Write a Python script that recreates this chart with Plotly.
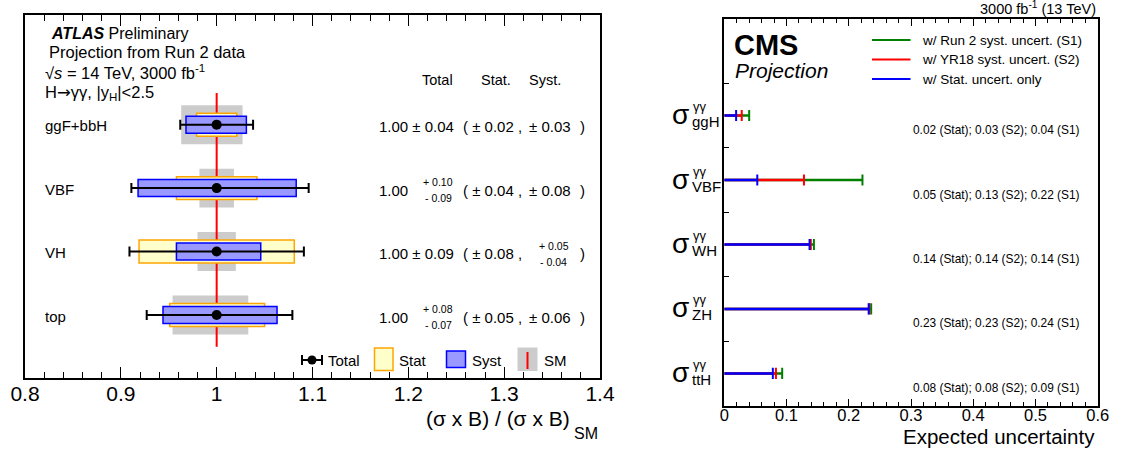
import plotly.graph_objects as go

W, H = 1121, 450
FONT = "Liberation Sans, Arial, Helvetica, sans-serif"

# ---------------- left panel: signal strengths per production mode ----------------
modes = ["ggF+bbH", "VBF", "VH", "top"]
mu = [1.00, 1.00, 1.00, 1.00]
tot_up = [0.038, 0.096, 0.091, 0.079]
tot_dn = [0.038, 0.089, 0.091, 0.073]
stat_up = [0.021, 0.042, 0.081, 0.050]
stat_dn = [0.021, 0.042, 0.081, 0.049]
syst_up = [0.031, 0.083, 0.046, 0.063]
syst_dn = [0.032, 0.082, 0.042, 0.056]
sm_up = [0.027, 0.018, 0.020, 0.033]
sm_dn = [0.037, 0.018, 0.020, 0.046]
ratio_ticks = [0.8, 0.9, 1.0, 1.1, 1.2, 1.3, 1.4]
ratio_ticktext = ["0.8", "0.9", "1", "1.1", "1.2", "1.3", "1.4"]

# ---------------- right panel: expected uncertainties ----------------
procs = ["ggH", "VBF", "WH", "ZH", "ttH"]
unc_stat = [0.019, 0.053, 0.137, 0.232, 0.078]
unc_s2 = [0.028, 0.128, 0.139, 0.233, 0.083]
unc_s1 = [0.040, 0.222, 0.144, 0.236, 0.093]
unc_ticks = [0.0, 0.1, 0.2, 0.3, 0.4, 0.5, 0.6]
unc_ticktext = ["0", "0.1", "0.2", "0.3", "0.4", "0.5", "0.6"]


def px(x):
    return x / W


def py(y):
    return 1 - y / H


def fmt(v):
    return f"{v:.2f}"


fig = go.Figure()
shapes = []
ann = []


def text(t, x, y, size, anchor="left", color="black", xref="paper", yref="paper", yshift=0):
    ann.append(dict(text=t, x=x, y=y, xref=xref, yref=yref, xanchor=anchor, yanchor="middle",
                    showarrow=False, yshift=yshift, font=dict(family=FONT, size=size, color=color)))


# ---------- left panel marks ----------
rows_l = list(range(len(modes) - 1, -1, -1))  # top row first

# SM theory bands and the SM reference line sit underneath the measured boxes
for r, m, u, d in zip(rows_l, mu, sm_up, sm_dn):
    shapes.append(dict(type="rect", xref="x", yref="y", layer="below",
                       x0=m - d, x1=m + u, y0=r - 0.307, y1=r + 0.307,
                       fillcolor="#cccccc", line=dict(width=0)))
shapes.append(dict(type="line", xref="x", yref="y", layer="below",
                   x0=1.0, x1=1.0, y0=-0.5, y1=len(modes) - 0.5,
                   line=dict(color="#ff0000", width=2)))

fig.add_trace(go.Bar(
    orientation="h", y=rows_l, base=[m - d for m, d in zip(mu, stat_dn)],
    x=[u + d for u, d in zip(stat_up, stat_dn)], width=0.362,
    marker=dict(color="#ffffcc", line=dict(color="#ffa500", width=1.5)),
    xaxis="x", yaxis="y", hoverinfo="skip", showlegend=False))
fig.add_trace(go.Bar(
    orientation="h", y=rows_l, base=[m - d for m, d in zip(mu, syst_dn)],
    x=[u + d for u, d in zip(syst_up, syst_dn)], width=0.268,
    marker=dict(color="#9999ff", line=dict(color="#0000ff", width=1.5)),
    xaxis="x", yaxis="y", hoverinfo="skip", showlegend=False))
fig.add_trace(go.Scatter(
    x=mu, y=rows_l, mode="markers",
    marker=dict(color="black", size=10),
    error_x=dict(type="data", symmetric=False, array=tot_up, arrayminus=tot_dn,
                 color="black", thickness=2, width=5),
    xaxis="x", yaxis="y", hoverinfo="skip", showlegend=False))

# row labels and numerical summary
for r, name, m, tu, td, su, sd, yu, yd in zip(rows_l, modes, mu, tot_up, tot_dn,
                                              stat_up, stat_dn, syst_up, syst_dn):
    text(name, px(43), r, 15, xref="paper", yref="y", yshift=-1)
    if fmt(tu) == fmt(td):
        text(f"{m:.2f} ± {fmt(tu)}", px(377), r, 15, yref="y", yshift=-2)
    else:
        text(f"{m:.2f}", px(377), r, 15, yref="y", yshift=-2)
        text(f"+ {fmt(tu)}", px(421), r, 10.5, yref="y", yshift=6)
        text(f"- {fmt(td)}", px(423), r, 10.5, yref="y", yshift=-10)
    if fmt(su) == fmt(sd):
        text(f"( ± {fmt(su)} ,", px(461), r, 15, yref="y", yshift=-2)
    else:
        text("(", px(461), r, 15, yref="y", yshift=-2)
        text(f"+ {fmt(su)}", px(470), r, 10.5, yref="y", yshift=6)
        text(f"- {fmt(sd)}", px(472), r, 10.5, yref="y", yshift=-10)
    if fmt(yu) == fmt(yd):
        text(f"± {fmt(yu)}", px(527), r, 15, yref="y", yshift=-2)
    else:
        text(f"+ {fmt(yu)}", px(537), r, 10.5, yref="y", yshift=6)
        text(f"- {fmt(yd)}", px(538), r, 10.5, yref="y", yshift=-10)
    text(")", px(578), r, 15, yref="y", yshift=-2)

text("Total", px(420), py(80), 14.5)
text("Stat.", px(479), py(80), 14.5)
text("Syst.", px(527), py(80), 14.5)

text("<b><i>ATLAS</i></b> Preliminary", px(49), py(33), 16)
text("Projection from Run 2 data", px(47), py(52), 16.5)
text("√<i>s</i> = 14 TeV, 3000 fb<sup>-1</sup>", px(43), py(72), 16.5)
text("H<span style='font-family:DejaVu Sans'>→</span>γγ, |y<sub>H</sub>|&lt;2.5",
     px(43), py(93), 16.5)

# left legend
ly = 360
shapes += [
    dict(type="line", xref="paper", yref="paper", x0=px(302), x1=px(322), y0=py(ly), y1=py(ly),
         line=dict(color="black", width=2)),
    dict(type="line", xref="paper", yref="paper", x0=px(302), x1=px(302), y0=py(ly - 5), y1=py(ly + 5),
         line=dict(color="black", width=2)),
    dict(type="line", xref="paper", yref="paper", x0=px(322), x1=px(322), y0=py(ly - 5), y1=py(ly + 5),
         line=dict(color="black", width=2)),
    dict(type="circle", xref="paper", yref="paper", x0=px(307.5), x1=px(316.5), y0=py(355.5), y1=py(364.5),
         fillcolor="black", line=dict(width=0)),
    dict(type="rect", xref="paper", yref="paper", x0=px(374.5), x1=px(393), y0=py(348), y1=py(370.5),
         fillcolor="#ffffcc", line=dict(color="#ffa500", width=1.5)),
    dict(type="rect", xref="paper", yref="paper", x0=px(446.5), x1=px(465.5), y0=py(351), y1=py(367.5),
         fillcolor="#9999ff", line=dict(color="#0000ff", width=1.5)),
    dict(type="rect", xref="paper", yref="paper", x0=px(517.5), x1=px(537.5), y0=py(347.5), y1=py(371),
         fillcolor="#cccccc", line=dict(width=0)),
    dict(type="line", xref="paper", yref="paper", x0=px(527.5), x1=px(527.5), y0=py(352), y1=py(369),
         line=dict(color="#ff0000", width=2)),
]
text("Total", px(326), py(ly), 15)
text("Stat", px(397), py(ly), 15)
text("Syst", px(470), py(ly), 15)
text("SM", px(541.5), py(ly), 15)

text("(σ x B) / (σ x B)", px(572), py(418), 21, anchor="right")
text("SM", px(572), py(433), 16, anchor="left")

# ---------- right panel marks ----------
rows_r = [len(procs) - 0.5 - i for i in range(len(procs))]
series = [(unc_s1, "#007f00"), (unc_s2, "#ff0000"), (unc_stat, "#0000ff")]
for vals, col in series:
    xs, ys = [], []
    for r, v in zip(rows_r, vals):
        xs += [0, v, None]
        ys += [r, r, None]
    fig.add_trace(go.Scatter(x=xs, y=ys, mode="lines", line=dict(color=col, width=2.5),
                             xaxis="x2", yaxis="y2", hoverinfo="skip", showlegend=False))
    fig.add_trace(go.Scatter(x=vals, y=rows_r, mode="markers",
                             marker=dict(symbol="line-ns", size=8, line=dict(color=col, width=2)),
                             xaxis="x2", yaxis="y2", hoverinfo="skip", showlegend=False))

for r, p, a, b, c in zip(rows_r, procs, unc_stat, unc_s2, unc_s1):
    text(f"{fmt(a)} (Stat); {fmt(b)} (S2); {fmt(c)} (S1)", 0.3, r, 11.9,
         xref="x2", yref="y2", yshift=-14.5)
    text("σ", px(691), r, 28, anchor="right", yref="y2", yshift=1)
    text("γγ", px(691), r, 13, yref="y2", yshift=9)
    text(p, px(690), r, 15, yref="y2", yshift=-6)

# right legend
for yy, col, lab in [(40, "#007f00", "w/ Run 2 syst. uncert. (S1)"),
                     (59.5, "#ff0000", "w/ YR18 syst. uncert. (S2)"),
                     (79, "#0000ff", "w/ Stat. uncert. only")]:
    shapes.append(dict(type="line", xref="paper", yref="paper", x0=px(872), x1=px(910.5),
                       y0=py(yy), y1=py(yy), line=dict(color=col, width=2)))
    text(lab, px(920), py(yy), 13.5)

text("<b>CMS</b>", px(732), py(45), 29)
text("<i>Projection</i>", px(733), py(70), 21)
text("3000 fb<sup>-1</sup> (13 TeV)", px(1098), py(8), 14.5, anchor="right")
text("Expected uncertainty", px(1097), py(436), 20.5, anchor="right")

axis_common = dict(showline=True, linecolor="black", linewidth=1.5, showgrid=False,
                   zeroline=False, ticks="inside", tickcolor="black", automargin=False)

fig.update_layout(
    width=W, height=H, autosize=False,
    margin=dict(l=0, r=0, t=0, b=0),
    paper_bgcolor="white", plot_bgcolor="white",
    barmode="overlay", showlegend=False,
    xaxis=dict(axis_common, domain=[px(25), px(600)], range=[0.8, 1.4],
               tickmode="array", tickvals=ratio_ticks, ticktext=ratio_ticktext,
               ticklen=11, tickwidth=1, mirror="ticks", ticklabelstandoff=-4,
               minor=dict(tickmode="linear", tick0=0.8, dtick=0.02, ticks="inside",
                          ticklen=6, tickcolor="black"),
               tickfont=dict(family=FONT, size=21, color="black"), anchor="y"),
    yaxis=dict(showline=True, linecolor="black", linewidth=1.5, mirror=True, showgrid=False,
               zeroline=False, showticklabels=False, ticks="", automargin=False,
               domain=[py(378), py(15.3)], range=[-0.992, 4.723], anchor="x"),
    xaxis2=dict(axis_common, domain=[px(724.3), px(1097.7)], range=[0, 0.6],
                tickmode="array", tickvals=unc_ticks, ticktext=unc_ticktext,
                ticklen=7, tickwidth=1, mirror="ticks", ticklabelstandoff=-6,
                minor=dict(tickmode="linear", tick0=0, dtick=0.02, ticks="inside",
                           ticklen=4, tickcolor="black"),
                tickfont=dict(family=FONT, size=16.5, color="black"), anchor="y2"),
    yaxis2=dict(showline=True, linecolor="black", linewidth=1.5, mirror=True, showgrid=False,
                zeroline=False, showticklabels=False, ticks="inside", tickcolor="black",
                ticklen=5, tickmode="array", tickvals=[1, 2, 3, 4, 5], automargin=False,
                domain=[py(405.7), py(18.8)], range=[0, 6], anchor="x2"),
    shapes=shapes, annotations=ann,
)

fig.write_html("out.html")
